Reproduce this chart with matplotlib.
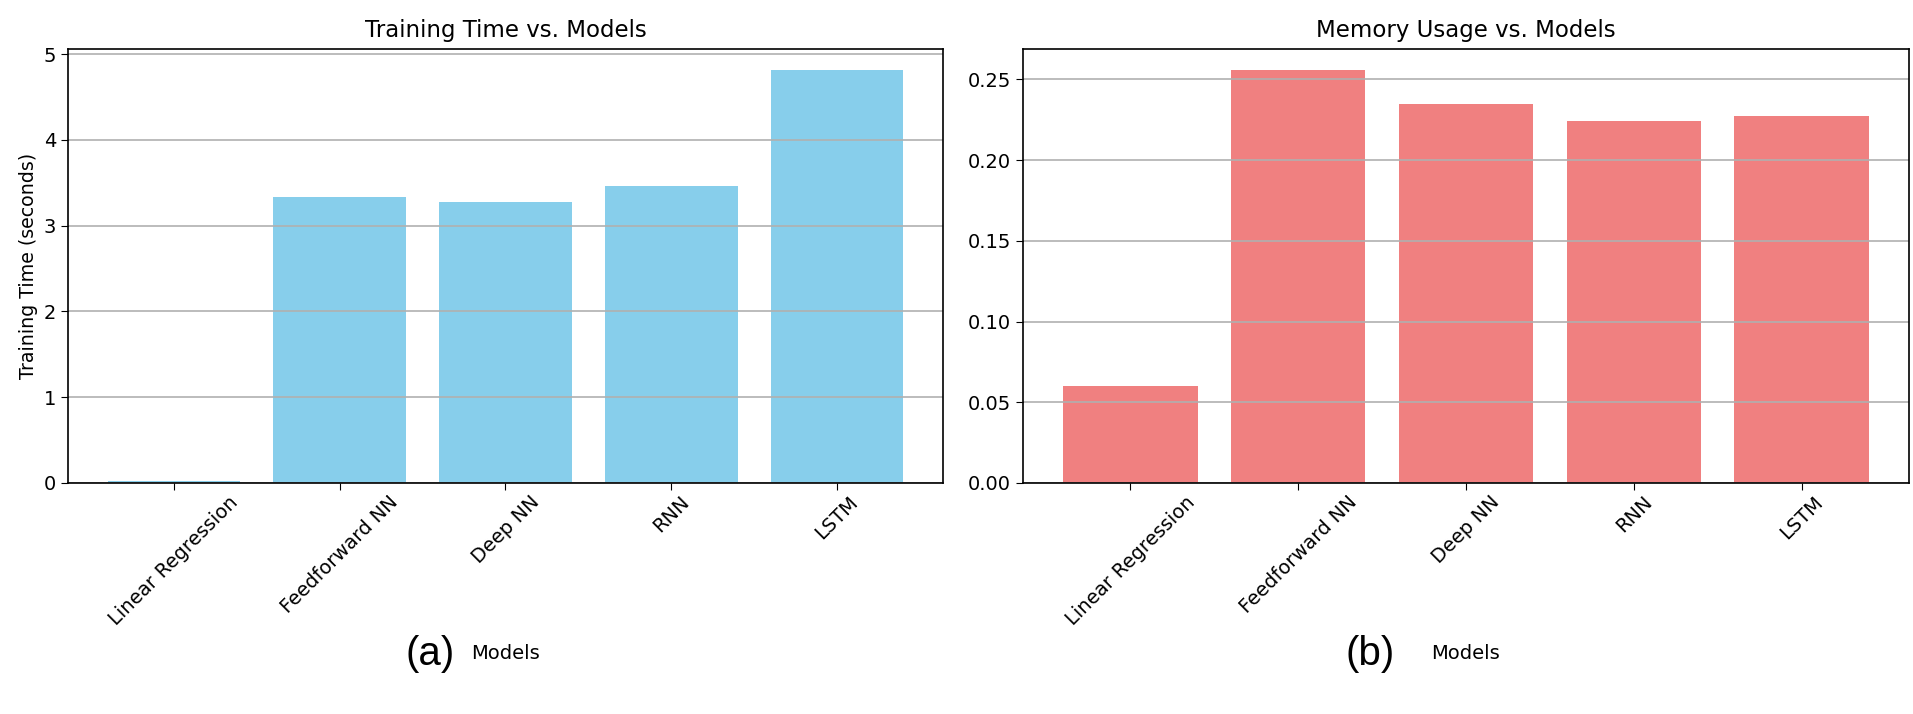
import numpy as np
import matplotlib
matplotlib.use("Agg")
from matplotlib import pyplot as plt

models = ["Linear Regression", "Feedforward NN", "Deep NN", "RNN", "LSTM"]
train_time = [0.02, 3.33, 3.28, 3.46, 4.82]
memory_usage = [0.060, 0.256, 0.235, 0.224, 0.227]

W, H = 1913, 714
fig = plt.figure(figsize=(W / 100, H / 100), dpi=100)
# axes boxes in pixels: left, right, top, bottom
ax1 = fig.add_axes([68 / W, 1 - 483 / H, (943 - 68) / W, (483 - 49) / H])
ax2 = fig.add_axes([1023 / W, 1 - 483 / H, (1909 - 1023) / W, (483 - 49) / H])

ax1.bar(models, train_time, color="skyblue")
ax1.set_title("Training Time vs. Models", fontsize=16.5, pad=9)
ax1.set_ylabel("Training Time (seconds)", fontsize=13.7)
ax1.set_yticks([0, 1, 2, 3, 4, 5])

ax2.bar(models, memory_usage, color="lightcoral")
ax2.set_title("Memory Usage vs. Models", fontsize=16.5, pad=9)

for ax in (ax1, ax2):
    ax.set_xlabel("Models", fontsize=14)
    ax.xaxis.set_label_coords(0.5, -0.37)
    ax.tick_params(axis="both", labelsize=14, length=5)
    ax.tick_params(axis="x", pad=2)
    ax.grid(axis="y", color="#b0b0b0", linewidth=1.2)
    plt.setp(ax.get_xticklabels(), rotation=45)
    for s in ax.spines.values():
        s.set_linewidth(1.2)

fig.text(430 / W, 1 - 654 / H, "(a)", fontsize=29, family="Liberation Sans", ha="center", va="center")
fig.text(1370 / W, 1 - 654 / H, "(b)", fontsize=29, family="Liberation Sans", ha="center", va="center")

fig.savefig("out.png", dpi=100)
